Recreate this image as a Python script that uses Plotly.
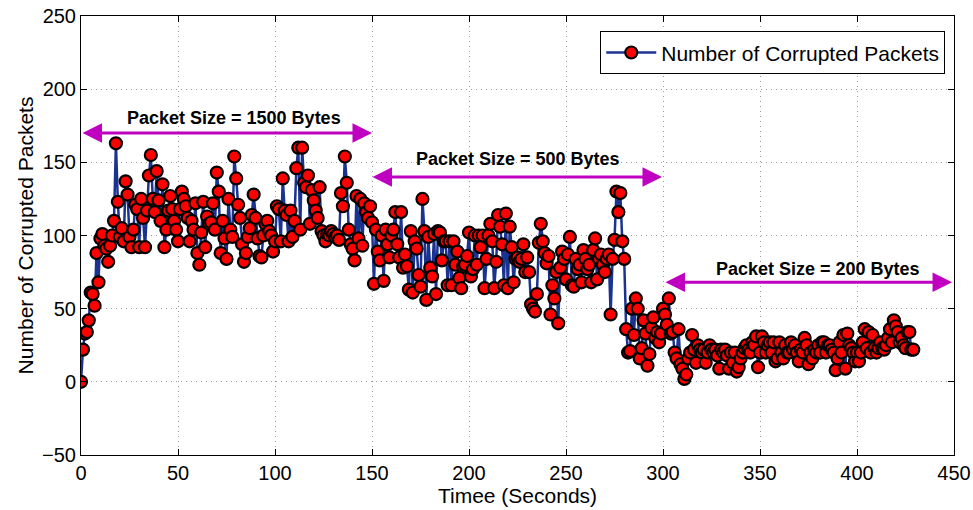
import plotly.graph_objects as go

values = [
    0, 22, 33, 34, 42, 61, 60, 52, 88, 68,
    98, 101, 93, 91, 82, 93, 100, 110, 163, 123,
    99, 105, 96, 137, 128, 99, 92, 104, 121, 118,
    92, 125, 112, 92, 117, 141, 155, 125, 116, 144,
    124, 110, 135, 92, 104, 117, 127, 118, 110, 104,
    96, 118, 130, 125, 120, 112, 96, 110, 104, 122,
    88, 80, 102, 123, 92, 113, 108, 109, 122, 104,
    143, 130, 88, 110, 98, 84, 125, 104, 99, 154,
    139, 121, 112, 94, 82, 88, 99, 105, 114, 128,
    112, 98, 86, 85, 100, 108, 110, 103, 100, 89,
    96, 120, 118, 96, 139, 117, 114, 96, 117, 99,
    110, 146, 160, 104, 160, 136, 133, 141, 108, 131,
    124, 117, 112, 133, 103, 100, 96, 101, 100, 103,
    101, 99, 100, 97, 129, 120, 154, 136, 104, 94,
    91, 83, 127, 98, 125, 93, 122, 116, 112, 120,
    109, 67, 104, 89, 83, 100, 69, 104, 94, 85,
    100, 104, 116, 94, 85, 116, 78, 87, 79, 63,
    103, 61, 96, 91, 73, 65, 125, 103, 56, 99,
    78, 72, 101, 60, 103, 102, 83, 96, 96, 66,
    96, 66, 96, 80, 89, 71, 64, 79, 80, 86,
    102, 72, 77, 100, 80, 100, 92, 100, 64, 84,
    100, 108, 96, 64, 82, 114, 106, 94, 66, 115,
    64, 106, 92, 68, 84, 85, 82, 84, 94, 75,
    85, 75, 53, 50, 48, 60, 95, 108, 96, 88,
    81, 86, 46, 66, 57, 75, 40, 78, 89, 84,
    70, 87, 99, 66, 65, 84, 77, 80, 68, 90,
    84, 77, 80, 68, 90, 98, 70, 84, 87, 80,
    75, 84, 87, 46, 84, 97, 130, 116, 129, 96,
    84, 36, 20, 21, 50, 32, 57, 50, 16, 23,
    42, 33, 11, 19, 37, 44, 30, 34, 27, 33,
    50, 46, 39, 57, 33, 34, 20, 16, 36, 12,
    9, 2, 5, 16, 20, 32, 22, 13, 25, 22,
    20, 22, 13, 20, 25, 22, 20, 22, 18, 9,
    22, 20, 22, 18, 9, 20, 13, 20, 7, 10,
    16, 20, 23, 25, 22, 20, 27, 25, 31, 10,
    20, 31, 27, 20, 25, 27, 20, 27, 14, 16,
    27, 20, 16, 25, 20, 20, 27, 22, 25, 20,
    14, 22, 20, 30, 25, 12, 20, 16, 22, 20,
    25, 20, 27, 27, 20, 25, 25, 22, 20, 8,
    16, 27, 20, 32, 9, 33, 25, 23, 20, 14,
    20, 14, 20, 27, 36, 23, 34, 20, 32, 23,
    20, 23, 27, 23, 22, 25, 30, 36, 27, 42,
    38, 34, 27, 30, 25, 23, 34, 34, 22, 22,
]
times = list(range(len(values)))

x_ticks = [0, 50, 100, 150, 200, 250, 300, 350, 400, 450]
y_ticks = [-50, 0, 50, 100, 150, 200, 250]
y_tick_text = ["\u221250", "0", "50", "100", "150", "200", "250"]

ranges = [
    {"label": "Packet Size = 1500 Bytes", "x0": 0.0, "x1": 150.0, "y": 170, "ty": 180, "tx": 79},
    {"label": "Packet Size = 500 Bytes", "x0": 149.5, "x1": 299.5, "y": 140, "ty": 152, "tx": 225},
    {"label": "Packet Size = 200 Bytes", "x0": 300.5, "x1": 449.0, "y": 68, "ty": 77, "tx": 380},
]

FONT = "Liberation Sans, Arial, sans-serif"
MAG = "#C000C0"

fig = go.Figure()
fig.add_trace(go.Scatter(
    x=times, y=values, mode="lines+markers",
    name="Number of Corrupted Packets",
    line=dict(color="#1a3290", width=2.5),
    marker=dict(size=12, color="#ff0000", line=dict(color="black", width=2.2)),
))

annotations = []
for r in ranges:
    annotations.append(dict(
        x=r["x1"], y=r["y"], ax=r["x0"], ay=r["y"],
        xref="x", yref="y", axref="x", ayref="y",
        showarrow=True, arrowside="end+start", arrowhead=2,
        arrowsize=1.3, arrowwidth=3, arrowcolor=MAG, text="",
    ))
    annotations.append(dict(
        x=r["tx"], y=r["ty"], xref="x", yref="y",
        text="<b>" + r["label"] + "</b>", showarrow=False,
        font=dict(family=FONT, size=18, color="black"),
    ))

axis_common = dict(
    showline=True, linecolor="black", linewidth=1, mirror="ticks",
    ticks="inside", ticklen=6, tickcolor="black", automargin=False,
    showgrid=True, gridcolor="#9a9a9a", griddash="1px,4px", gridwidth=1.2,
    zeroline=False, tickfont=dict(family=FONT, size=20, color="black"),
)

fig.update_layout(
    width=973, height=510,
    margin=dict(l=81, r=19, t=16, b=55),
    paper_bgcolor="white", plot_bgcolor="white",
    font=dict(family=FONT, color="black"),
    xaxis=dict(range=[0, 450], tickvals=x_ticks,
               title=dict(text="Timee (Seconds)", font=dict(family=FONT, size=21), standoff=0),
               **axis_common),
    yaxis=dict(range=[-50, 250], tickvals=y_ticks, ticktext=y_tick_text,
               title=dict(text="Number of Corrupted Packets", font=dict(family=FONT, size=21), standoff=2),
               **axis_common),
    legend=dict(x=0.99, y=0.965, xanchor="right", yanchor="top",
                bordercolor="black", borderwidth=1, bgcolor="white",
                itemwidth=50,
                font=dict(family=FONT, size=21)),
    annotations=annotations,
    showlegend=True,
)

fig.write_html("out.html")
